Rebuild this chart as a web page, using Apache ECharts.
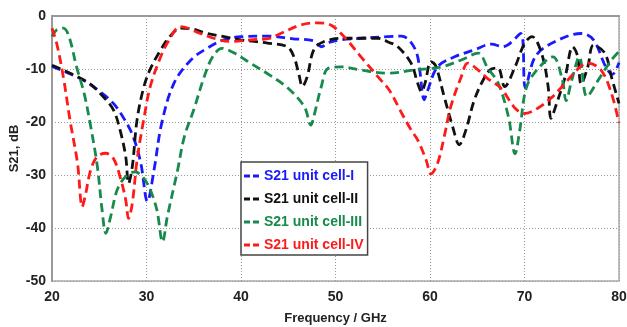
<!DOCTYPE html>
<html>
<head>
<meta charset="utf-8">
<script src="https://cdn.jsdelivr.net/npm/echarts@6/dist/echarts.min.js"></script>
<style>
  html, body { margin: 0; padding: 0; background: #fff; }
  #main { width: 627px; height: 327px; }
</style>
</head>
<body>
<div id="main"></div>
<script>
// frequency (GHz) / S21 (dB), one pair of arrays per unit cell
const freqI = [20, 23.3, 25.1, 26.5, 27.7, 28.6, 29.4, 30.1, 30.8, 31.6, 32.9, 34.7, 36.4, 38.2, 40, 42.8, 45.5, 47.7, 48.5, 49.3, 50.5, 52.7, 55.5, 57, 58, 58.7, 59.4, 59.7, 60.8, 62.6, 64.7, 66.5, 67.7, 69.6, 70.1, 71.2, 73.5, 76, 77.3, 78.6, 79.3, 80];
const s21I = [-9.5, -12.1, -14.3, -16.5, -19.6, -22.8, -27.8, -35, -29, -20.3, -12.7, -8.3, -6.1, -4.5, -3.9, -3.8, -4.3, -4.7, -5.8, -5.0, -4.5, -4.2, -3.9, -3.8, -5.0, -7.7, -15.8, -14.3, -9.6, -7.7, -6.4, -5.3, -5.8, -3.3, -13.5, -7.5, -4.6, -3.3, -4.5, -9.6, -11, -8.8];

const freqII = [20, 23.7, 25.4, 26.5, 27.2, 27.8, 28.1, 28.5, 29, 29.7, 30.4, 31.5, 32.4, 33.6, 34.7, 36.4, 38.2, 40, 42.8, 44.9, 45.6, 46.1, 46.5, 47, 47.7, 48.8, 50.9, 54.5, 55.7, 56.6, 58, 58.7, 59.1, 59.5, 60.1, 60.6, 61.5, 62.4, 63.1, 63.8, 64.7, 65.8, 66.5, 67.2, 67.9, 69, 70, 70.8, 71.8, 72.5, 72.8, 73.4, 74.3, 75.1, 75.6, 76, 76.7, 77.3, 78.5, 79.2, 80];
const s21II = [-9.3, -12.4, -15.2, -17.7, -21.5, -26.5, -31.6, -28.4, -19.6, -13.5, -10, -6.4, -4, -2.3, -2.4, -3.3, -3.9, -4.5, -5.1, -5.8, -7.7, -10.8, -13.3, -11.5, -6.4, -4.8, -4.2, -4.2, -5.0, -5.8, -8.9, -12.7, -14.3, -12.5, -8.6, -9.4, -15.2, -20.9, -24.3, -21.5, -15.8, -11.5, -10, -9.8, -13.3, -9.6, -5.2, -3.9, -7, -13.3, -19.3, -16.5, -11.5, -5.8, -7.5, -12.8, -9.6, -5.5, -7, -11.5, -16.5];

const freqIII = [20, 20.5, 21.2, 21.8, 22.6, 23.4, 24.1, 24.8, 25.3, 25.7, 26.2, 26.9, 27.8, 28.8, 29.7, 30.4, 31.1, 31.7, 32.2, 33.3, 34, 35, 36.1, 37, 38, 39.3, 41, 43, 44.9, 46.7, 47.4, 47.7, 48.5, 49.2, 50.6, 52.7, 55.5, 58.3, 61.2, 63.3, 65.1, 66.1, 67.2, 68.3, 69, 69.5, 70.2, 71.4, 73, 74, 74.4, 75, 75.8, 76.6, 77.8, 79.2, 80];
const s21III = [-3.9, -2.6, -2.3, -3.9, -9.6, -14.6, -20.9, -28.4, -36.6, -41, -37.9, -32.8, -30.3, -29.4, -30.6, -32.8, -36.6, -42.6, -37.9, -29, -22.8, -17.7, -11.5, -7.7, -6.1, -7, -8.9, -11.1, -13.5, -17.1, -20.6, -19, -13.3, -9.9, -9.6, -10.2, -10.8, -10.2, -9.6, -8.3, -7, -9.8, -12.6, -19, -26, -21.5, -13.5, -10, -7.7, -12, -16, -12.1, -7.7, -15.2, -12.1, -8.3, -6.7];

const freqIV = [20, 20.5, 21.2, 21.9, 22.7, 23.2, 23.5, 24.1, 24.8, 25.7, 26.5, 27.2, 27.8, 28.1, 28.5, 29, 29.7, 30.4, 31.5, 32.4, 33.6, 35.7, 37.1, 38.9, 41, 43, 44.2, 46.3, 48.1, 49.5, 50.9, 52.7, 54.5, 55.7, 56.9, 58, 58.7, 59.6, 60.1, 60.8, 61.5, 62.2, 63.3, 64, 65.1, 66.1, 67.5, 69, 70, 71.4, 72.8, 74.3, 75.7, 76.7, 78.1, 79.2, 80];
const s21IV = [-2.3, -5.2, -11.5, -19.6, -27.8, -36, -34.1, -29, -26.5, -25.9, -26.9, -30.3, -34.7, -38.2, -35.3, -27.2, -19.6, -13.3, -7.7, -4.5, -2, -3.3, -4.2, -4.8, -4.5, -4.2, -3.3, -1.7, -1.3, -1.7, -3.9, -7.7, -11.5, -14, -18, -21.5, -23.4, -27.2, -29.8, -27.8, -22.8, -17.1, -11.5, -8.9, -10.2, -11.8, -13.6, -17.4, -18.4, -17.4, -15.5, -12.7, -9.9, -8.9, -10.2, -14.6, -20.2];

const names = ['S21 unit cell-I', 'S21 unit cell-II', 'S21 unit cell-III', 'S21 unit cell-IV'];
const colors = ['#1a1aff', '#111111', '#178a4c', '#ff1a1a'];
const freqs = [freqI, freqII, freqIII, freqIV];
const values = [s21I, s21II, s21III, s21IV];

const font = 'Liberation Sans';
// two short dashes as the legend mark
const dashIcon = 'path://M0,0h6v3h-6z M9,0h6v3h-6z';

let option;

option = {
  animation: false,
  grid: {
    left: 52, right: 8, top: 16, bottom: 46,
    containLabel: false,
    outerBoundsMode: 'none',
    show: true, borderColor: '#aaa', borderWidth: 1.5
  },
  legend: {
    orient: 'vertical',
    left: 241,
    top: 162,
    padding: [6, 4, 2, 3],
    itemWidth: 15,
    itemHeight: 3,
    itemGap: 7,
    borderColor: '#444',
    borderWidth: 1.5,
    backgroundColor: '#fff',
    borderRadius: 0,
    textStyle: { fontFamily: font, fontWeight: 'bold', fontSize: 14, lineHeight: 16 },
    data: names.map((n, i) => ({ name: n, icon: dashIcon, itemStyle: { color: colors[i] }, textStyle: { color: colors[i] } }))
  },
  xAxis: {
    type: 'value',
    min: 20,
    max: 80,
    interval: 10,
    name: 'Frequency / GHz',
    nameLocation: 'middle',
    nameGap: 31,
    nameMoveOverlap: false,
    nameTextStyle: { fontFamily: font, fontWeight: 'bold', fontSize: 13, color: '#222' },
    axisLine: { lineStyle: { color: '#999', width: 2 } },
    axisTick: { show: false },
    axisLabel: { fontFamily: font, fontWeight: 'bold', fontSize: 14, color: '#222', margin: 9 },
    splitLine: { lineStyle: { color: '#999', type: [1, 2] } }
  },
  yAxis: {
    type: 'value',
    min: -50,
    max: 0,
    interval: 10,
    name: 'S21, dB',
    nameLocation: 'middle',
    nameRotate: 90,
    nameGap: 31,
    nameMoveOverlap: false,
    nameTextStyle: { fontFamily: font, fontWeight: 'bold', fontSize: 13, color: '#222' },
    axisLine: { show: true, lineStyle: { color: '#999', width: 2 } },
    axisTick: { show: false },
    axisLabel: { fontFamily: font, fontWeight: 'bold', fontSize: 14, color: '#222', margin: 6 },
    splitLine: { lineStyle: { color: '#999', type: [1, 2] } }
  },
  series: names.map((n, i) => ({
    name: n,
    type: 'line',
    smooth: 0.35,
    showSymbol: false,
    symbol: 'none',
    color: colors[i],
    lineStyle: { width: 2.8, type: [9, 5], color: colors[i] },
    data: freqs[i].map((f, k) => [f, values[i][k]])
  }))
};

var chartDom = document.getElementById('main');
var myChart = echarts.init(chartDom);
option && myChart.setOption(option);
</script>
</body>
</html>
